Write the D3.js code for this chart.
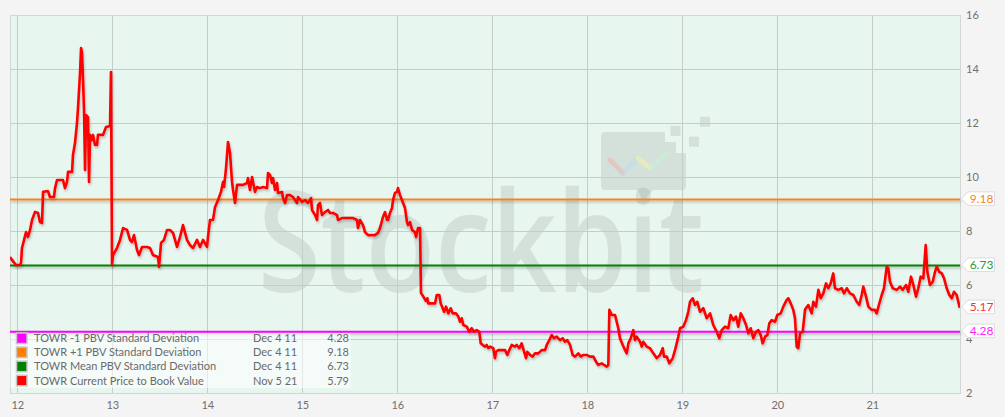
<!DOCTYPE html>
<html><head><meta charset="utf-8">
<script src="https://cdn.jsdelivr.net/npm/d3@7"></script>
<style>
html,body{margin:0;padding:0;background:#f4f4f4;}
svg{display:block;font-family:Lato,"Open Sans",sans-serif;}
</style></head><body>
<svg id="chart" width="1005" height="417"></svg>
<script>
// ---- data (decimal years, PBV) ----
const dates = [
2011.923,2011.944,2011.986,2012.028,2012.039,2012.049,2012.071,2012.092,2012.113,2012.134,2012.155,2012.186,2012.218,2012.239,2012.260,2012.271,2012.323,2012.344,2012.386,2012.397,2012.418,2012.481,2012.502,2012.523,2012.534,2012.576,2012.586,2012.607,2012.628,2012.639,2012.660,2012.671,2012.681,2012.692,2012.702,2012.713,2012.723,2012.744,2012.755,2012.765,2012.786,2012.797,2012.818,2012.839,2012.849,2012.902,2012.934,2012.976,2012.986,2012.997,
2013.007,2013.049,2013.081,2013.113,2013.155,2013.186,2013.207,2013.228,2013.260,2013.281,2013.313,2013.365,2013.397,2013.428,2013.481,2013.492,2013.513,2013.544,2013.576,2013.607,2013.639,2013.681,2013.713,2013.744,2013.786,2013.818,2013.849,2013.892,2013.923,2013.955,2013.997,
2014.007,2014.028,2014.060,2014.081,2014.113,2014.144,2014.165,2014.176,2014.197,2014.218,2014.239,2014.260,2014.271,2014.292,2014.313,2014.344,2014.376,2014.418,2014.428,2014.449,2014.471,2014.481,2014.502,2014.523,2014.555,2014.586,2014.628,2014.639,2014.660,2014.681,2014.692,2014.713,2014.734,2014.744,2014.786,2014.797,2014.818,2014.839,2014.871,2014.902,2014.944,2014.955,2014.997,
2015.028,2015.060,2015.092,2015.102,2015.134,2015.155,2015.165,2015.186,2015.207,2015.239,2015.271,2015.292,2015.323,2015.365,2015.376,2015.418,2015.471,2015.534,2015.576,2015.586,2015.607,2015.639,2015.660,2015.692,2015.734,2015.765,2015.797,2015.818,2015.849,2015.871,2015.892,2015.902,2015.923,2015.944,2015.955,2015.976,2015.997,
2016.007,2016.028,2016.049,2016.081,2016.102,2016.113,2016.134,2016.155,2016.186,2016.197,2016.218,2016.239,
2016.249,2016.274,2016.302,2016.316,2016.326,2016.397,2016.415,2016.442,2016.457,2016.478,2016.492,2016.513,2016.537,2016.562,2016.583,2016.618,2016.642,2016.660,2016.678,2016.695,2016.731,2016.758,2016.783,2016.807,2016.836,2016.863,2016.878,2016.899,2016.923,2016.941,2016.958,2016.976,
2017.011,2017.028,2017.039,2017.063,2017.099,2017.134,2017.158,2017.179,2017.204,2017.239,2017.257,2017.284,2017.309,2017.334,2017.355,2017.368,2017.397,2017.425,2017.449,2017.484,2017.520,2017.555,2017.573,2017.600,2017.625,2017.649,2017.678,2017.713,2017.741,2017.765,2017.789,2017.818,2017.846,2017.871,2017.905,2017.931,2017.958,2017.994,
2018.028,2018.063,2018.092,2018.116,2018.152,2018.176,2018.204,2018.221,2018.232,2018.257,2018.292,2018.326,2018.344,2018.373,2018.397,2018.415,2018.432,2018.457,2018.484,2018.502,2018.520,2018.555,2018.573,2018.589,2018.625,2018.660,2018.695,2018.731,2018.765,2018.794,2018.807,2018.836,2018.863,2018.899,2018.923,2018.941,2018.958,2018.976,
2019.011,2019.039,2019.063,2019.081,2019.109,2019.134,2019.158,2019.186,2019.221,2019.257,2019.292,2019.326,2019.362,2019.389,2019.415,2019.449,2019.484,2019.509,2019.537,2019.565,2019.589,2019.615,2019.642,2019.671,2019.695,2019.720,2019.747,2019.776,2019.800,2019.825,2019.846,2019.871,2019.895,2019.916,2019.941,2019.976,
2020.000,2020.036,2020.063,2020.099,2020.116,2020.141,2020.168,2020.186,2020.204,2020.221,2020.239,2020.267,2020.292,2020.326,2020.362,2020.379,2020.407,2020.432,2020.457,2020.484,2020.513,2020.537,2020.562,2020.589,2020.607,2020.642,2020.678,2020.702,2020.731,2020.765,2020.800,2020.836,2020.863,2020.888,2020.905,2020.934,2020.958,2020.994,
2021.028,2021.046,2021.074,2021.099,2021.123,2021.152,2021.168,2021.186,2021.215,2021.257,2021.292,2021.320,2021.355,2021.379,2021.407,2021.432,2021.460,2021.484,2021.509,2021.537,2021.562,2021.579,2021.607,2021.636,2021.660,2021.678,2021.705,2021.731,2021.755,2021.783,2021.811,2021.836,2021.860,2021.888,2021.920
];
const pbv = [
7.05,6.94,6.75,6.75,6.83,7.38,7.68,7.97,7.79,8.05,8.42,8.72,8.68,8.34,8.31,9.46,9.49,9.27,9.27,9.60,9.90,9.90,9.60,9.83,10.20,10.20,10.83,11.27,12.01,12.57,13.86,14.79,14.60,13.60,12.49,10.27,12.31,12.23,9.83,11.57,11.38,11.57,11.20,11.20,11.57,11.57,11.86,11.90,13.90,6.75,
7.12,7.38,7.68,8.12,8.05,7.68,7.60,7.86,7.31,7.12,7.42,7.42,7.38,7.12,7.05,6.68,7.57,7.68,8.05,8.05,7.94,7.42,7.79,8.23,7.68,7.49,7.38,7.68,7.42,7.68,7.42,
7.79,8.42,8.42,8.90,9.16,9.46,9.83,9.64,10.34,11.31,10.90,9.83,9.53,9.05,9.72,9.72,9.72,9.79,9.97,9.53,10.01,9.83,9.46,9.64,9.60,9.64,9.60,10.16,10.09,9.79,9.97,9.53,9.79,9.42,9.46,9.23,9.05,9.34,9.34,9.27,9.05,9.27,9.09,
9.16,9.05,9.23,8.79,8.60,8.42,8.97,9.05,8.60,8.71,8.79,8.68,8.68,8.60,8.42,8.49,8.49,8.49,8.42,8.12,8.42,8.23,7.97,7.86,7.86,7.86,7.94,8.12,8.53,8.71,8.42,8.42,8.68,8.86,9.16,9.42,9.46,
9.60,9.34,9.16,8.86,8.34,8.23,8.34,8.05,7.97,7.79,8.12,8.12,
5.72,5.58,5.42,5.52,5.33,5.33,5.64,5.64,5.33,5.15,5.02,5.21,4.96,5.15,4.96,4.96,4.84,4.65,4.78,4.53,4.47,4.28,4.41,4.28,4.34,4.28,3.85,3.79,3.73,3.79,3.67,3.73,
3.67,3.30,3.54,3.60,3.60,3.60,3.42,3.60,3.79,3.73,3.79,3.67,3.85,3.54,3.30,3.54,3.42,3.36,3.48,3.48,3.60,3.60,3.79,3.97,4.16,4.04,4.10,3.97,4.04,3.91,3.97,3.79,3.42,3.36,3.48,3.36,3.42,3.42,
3.36,3.36,3.17,3.05,3.11,3.05,2.99,3.05,5.09,4.90,4.90,4.41,4.04,3.79,3.60,3.48,3.85,4.04,4.34,3.97,4.10,3.91,3.73,3.91,3.73,3.67,3.48,3.30,3.42,3.67,3.36,3.36,3.11,3.30,3.60,3.85,4.10,4.41,
4.47,4.71,5.02,5.39,5.52,5.27,5.39,5.02,5.15,4.78,4.96,4.53,4.28,4.04,4.34,4.47,4.41,4.90,4.71,4.84,4.47,4.96,4.78,4.53,4.22,4.41,4.04,4.28,4.34,4.16,3.85,4.10,4.16,4.59,4.71,4.65,
4.90,4.96,5.21,5.46,5.52,5.33,5.09,4.78,3.73,3.67,4.22,4.28,5.10,5.27,4.96,5.39,5.21,5.83,5.52,5.70,6.07,5.89,6.07,6.44,5.89,5.83,5.89,5.70,5.89,5.70,5.64,5.39,5.27,5.64,5.95,5.58,5.21,5.09,
5.09,4.96,5.33,5.64,5.89,6.69,6.63,6.13,5.89,5.83,5.95,5.83,6.01,5.76,6.32,6.01,5.58,5.89,6.32,6.26,7.49,6.50,6.01,6.13,6.50,6.69,6.50,6.44,6.26,5.89,5.64,5.52,5.76,5.64,5.17
];
const yTicks = [2,4,6,8,10,12,14,16];
const xTickYears = [2012,2013,2014,2015,2016,2017,2018,2019,2020,2021];
const xTickLabels = ["12","13","14","15","16","17","18","19","20","21"];
const xDomain = [2011.923, 2021.923];
const yDomain = [2, 16];

const bandNames = ["TOWR -1 PBV Standard Deviation","TOWR +1 PBV Standard Deviation","TOWR Mean PBV Standard Deviation"];
const bandDates = ["Dec 4 11","Dec 4 11","Dec 4 11"];
const bandValues = [4.28, 9.18, 6.73];
const seriesName = "TOWR Current Price to Book Value";
const seriesLegendDate = "Nov 5 21";
const seriesLegendValue = 5.79;
const watermarkText = "Stockbit";

// ---- styles ----
const bandLineColors = ["#ff00ff","#f5841f","#0b7d0b"];
const bandTextColors = ["#ff22ff","#f5841f","#2a9a2a"];
const bandSwatch = ["#ff00ff","#ff7f00","#008000"];
const seriesColor = "#ff0000";

const W = 1005, H = 417;
const L = 10, R = 960, T = 15.3, B = 393.3;

const svg = d3.select("#chart");
const x = d3.scaleLinear().domain(xDomain).range([L, R]);
const y = d3.scaleLinear().domain(yDomain).range([B, T]);

const defs = svg.append("defs");
const f = defs.append("filter").attr("id","sh").attr("x","-5%").attr("y","-5%").attr("width","110%").attr("height","120%");
f.append("feDropShadow").attr("dx",1).attr("dy",2).attr("stdDeviation",1.2).attr("flood-color","#000").attr("flood-opacity",0.22);
const clip = defs.append("clipPath").attr("id","plotclip");
clip.append("rect").attr("x",L).attr("y",T).attr("width",R-L).attr("height",B-T);

svg.append("rect").attr("width",W).attr("height",H).attr("fill","#f4f4f4");
svg.append("rect").attr("x",L).attr("y",T).attr("width",R-L).attr("height",B-T).attr("fill","#e8f6f0");

// watermark
const wm = svg.append("g").attr("clip-path","url(#plotclip)");
const wmFill = "rgba(110,125,118,0.17)";
wm.append("text").attr("x",481).attr("y",292).attr("text-anchor","middle")
  .attr("font-family","'Open Sans',sans-serif").attr("font-size",140).attr("font-weight",600)
  .attr("textLength",446).attr("lengthAdjust","spacingAndGlyphs")
  .attr("fill",wmFill).text(watermarkText);
wm.append("path").attr("d","M605,132 L665,132 L665,142 L676,142 L676,153 L686,153 L686,186 Q686,190 682,190 L653,190 L643,202 L638,190 L605,190 Q601,190 601,186 L601,136 Q601,132 605,132 Z").attr("fill",wmFill);
[[670.5,126],[689,136.7],[700,116.7]].forEach(p=>{
  wm.append("rect").attr("x",p[0]).attr("y",p[1]).attr("width",10).attr("height",10).attr("fill",wmFill);
});
const zz = [[610,160],[623,173],[638,158],[650,168],[667,153]];
const zzCol = ["rgba(245,170,160,0.45)","rgba(190,220,235,0.5)","rgba(245,240,170,0.6)","rgba(200,240,210,0.6)"];
for(let i=0;i<4;i++){
  wm.append("line").attr("x1",zz[i][0]).attr("y1",zz[i][1]).attr("x2",zz[i+1][0]).attr("y2",zz[i+1][1])
    .attr("stroke",zzCol[i]).attr("stroke-width",5).attr("stroke-linecap","round");
}

// grid
const gridCol = "#c4cdc9";
svg.append("g").selectAll("line").data(yTicks).join("line")
  .attr("x1",L).attr("x2",R).attr("y1",d=>y(d)).attr("y2",d=>y(d))
  .attr("stroke",gridCol).attr("stroke-width",1).attr("shape-rendering","crispEdges");
svg.append("g").selectAll("line").data(xTickYears).join("line")
  .attr("y1",T).attr("y2",B).attr("x1",d=>x(d)).attr("x2",d=>x(d))
  .attr("stroke",gridCol).attr("stroke-width",1).attr("shape-rendering","crispEdges");
svg.append("rect").attr("x",L).attr("y",T).attr("width",R-L).attr("height",B-T)
  .attr("fill","none").attr("stroke","#d2d6d4").attr("shape-rendering","crispEdges");

// axes
const yAxis = d3.axisRight(y).tickValues(yTicks).tickSize(0).tickPadding(6).tickFormat(d3.format("d"));
const gy = svg.append("g").attr("transform",`translate(${R},0)`).call(yAxis);
const xAxis = d3.axisBottom(x).tickValues(xTickYears).tickSize(0).tickPadding(8).tickFormat((d,i)=>xTickLabels[i]);
const gx = svg.append("g").attr("transform",`translate(0,${B})`).call(xAxis);
[gx,gy].forEach(g=>{
  g.select(".domain").remove();
  g.selectAll("text").attr("fill","#6f6f6f").attr("font-size",11).attr("font-family","Lato,'Open Sans',sans-serif");
});

// band lines
const bands = bandValues.map((v,i)=>({v,i}));
svg.append("g").attr("filter","url(#sh)").selectAll("line").data(bands).join("line")
  .attr("x1",L).attr("x2",R).attr("y1",d=>y(d.v)).attr("y2",d=>y(d.v))
  .attr("stroke",d=>bandLineColors[d.i]).attr("stroke-width",2);

// series line
const series = dates.map((d,i)=>[d,pbv[i]]);
svg.append("path").datum(series)
  .attr("clip-path","url(#plotclip)")
  .attr("filter","url(#sh)")
  .attr("fill","none").attr("stroke",seriesColor).attr("stroke-width",2.6)
  .attr("stroke-linejoin","round")
  .attr("d",d3.line().x(d=>x(d[0])).y(d=>y(d[1])));

// flags on right
const lastVal = pbv[pbv.length-1];
const flags = [
  {v:bandValues[1], c:bandTextColors[1]},
  {v:bandValues[2], c:bandTextColors[2]},
  {v:lastVal, c:"#ff3030"},
  {v:bandValues[0], c:bandTextColors[0]}
];
const fg = svg.append("g").selectAll("g").data(flags).join("g")
  .attr("transform",d=>`translate(${R+1.5},${y(d.v)-0.8})`);
fg.append("path").attr("d","M0,0 L6.5,-6.8 L33,-6.8 L33,6.8 L6.5,6.8 Z")
  .attr("fill","#ffffff").attr("stroke","#dcdcdc").attr("stroke-width",1);
fg.append("text").attr("x",20).attr("dy","0.36em").attr("text-anchor","middle")
  .attr("font-size",12).attr("fill",d=>d.c).text(d=>d3.format(".2f")(d.v));

// legend
const legendRows = [
  {name:bandNames[0], date:bandDates[0], val:bandValues[0], col:bandSwatch[0]},
  {name:bandNames[1], date:bandDates[1], val:bandValues[1], col:bandSwatch[1]},
  {name:bandNames[2], date:bandDates[2], val:bandValues[2], col:bandSwatch[2]},
  {name:seriesName, date:seriesLegendDate, val:seriesLegendValue, col:seriesColor}
];
const lg = svg.append("g");
lg.append("rect").attr("x",L+0.5).attr("y",333).attr("width",340).attr("height",55)
  .attr("fill","#ffffff").attr("fill-opacity",0.55);
const rows = lg.selectAll("g").data(legendRows).join("g")
  .attr("transform",(d,i)=>`translate(0,${338.3+i*14.1})`);
rows.append("rect").attr("x",16.5).attr("y",-5.3).attr("width",10.5).attr("height",10.5)
  .attr("fill",d=>d.col).attr("stroke","#c6c6c6").attr("stroke-width",1.5);
rows.append("text").attr("x",34).attr("dy","0.36em").attr("font-size",11).attr("fill","#6a6a6a").text(d=>d.name);
rows.append("text").attr("x",253).attr("dy","0.36em").attr("font-size",11).attr("fill","#6a6a6a").text(d=>d.date);
rows.append("text").attr("x",349).attr("dy","0.36em").attr("text-anchor","end").attr("font-size",11).attr("fill","#6a6a6a").text(d=>d3.format(".2f")(d.val));
</script>
</body></html>
